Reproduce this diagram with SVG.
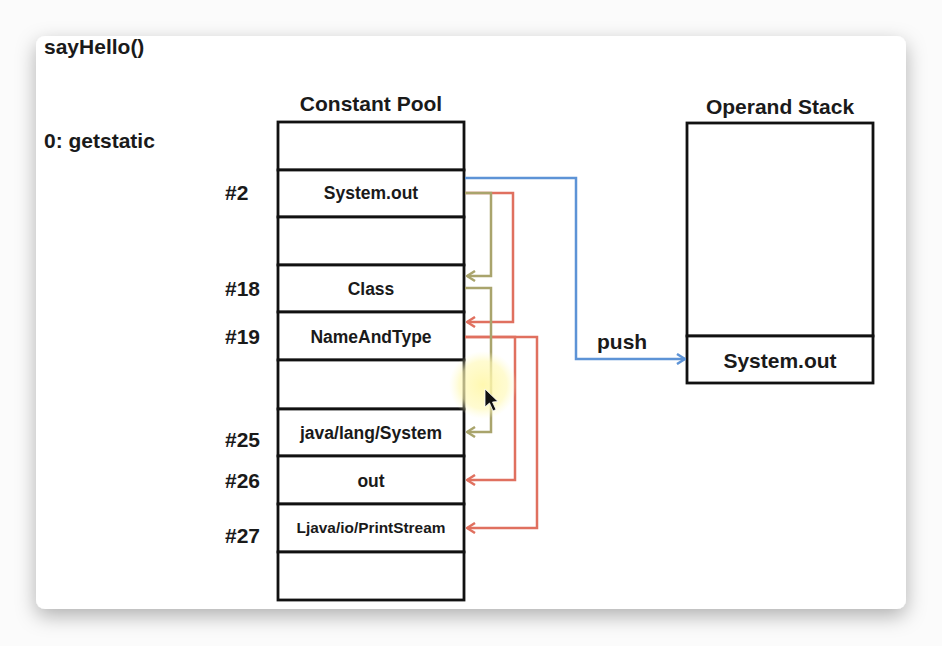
<svg xmlns="http://www.w3.org/2000/svg" width="942" height="646" viewBox="0 0 942 646">
<defs>
<style>
.t{font-family:"Liberation Sans",Arial,Helvetica,sans-serif;font-weight:bold;fill:#1a1a1a}
.big{font-size:21px}
.cell{font-size:17.5px;text-anchor:middle}
.box{fill:#fff;stroke:#111;stroke-width:2.8}
.c{fill:none;stroke-width:2.5;stroke-linejoin:miter}
.blue{stroke:#5d93d6}
.olive{stroke:#a9a46c}
.red{stroke:#e0705f}
</style>
<filter id="sh" x="-10%" y="-10%" width="120%" height="125%">
<feDropShadow dx="0" dy="7" stdDeviation="10" flood-color="#000" flood-opacity="0.3"/>
</filter>
<radialGradient id="glow">
<stop offset="0" stop-color="#fff7a8" stop-opacity="0.9"/>
<stop offset="0.7" stop-color="#fff9b8" stop-opacity="0.65"/>
<stop offset="1" stop-color="#fffcd0" stop-opacity="0"/>
</radialGradient>
<marker id="ab" viewBox="0 0 10 12" refX="9" refY="6" markerWidth="10" markerHeight="12" markerUnits="userSpaceOnUse" orient="auto"><path d="M1,1 L9,6 L1,11" fill="none" stroke="#5d93d6" stroke-width="2.5"/></marker>
<marker id="ao" viewBox="0 0 10 12" refX="9" refY="6" markerWidth="10" markerHeight="12" markerUnits="userSpaceOnUse" orient="auto"><path d="M1,1 L9,6 L1,11" fill="none" stroke="#a9a46c" stroke-width="2.5"/></marker>
<marker id="ar" viewBox="0 0 10 12" refX="9" refY="6" markerWidth="10" markerHeight="12" markerUnits="userSpaceOnUse" orient="auto"><path d="M1,1 L9,6 L1,11" fill="none" stroke="#e0705f" stroke-width="2.5"/></marker>
</defs>
<rect x="0" y="0" width="942" height="646" fill="#fbfbfb"/>
<rect x="36" y="36" width="870" height="573" rx="9" fill="#fff" filter="url(#sh)"/>

<g id="labels">
<text class="t big" x="44" y="54">sayHello()</text>
<text class="t big" x="44" y="148">0: getstatic</text>
<text class="t big" x="371" y="111" text-anchor="middle">Constant Pool</text>
<text class="t big" x="780" y="114" text-anchor="middle">Operand Stack</text>
<text class="t big" x="225" y="200">#2</text>
<text class="t big" x="225" y="296">#18</text>
<text class="t big" x="225" y="344">#19</text>
<text class="t big" x="225" y="447">#25</text>
<text class="t big" x="225" y="488">#26</text>
<text class="t big" x="225" y="543">#27</text>
</g>

<g id="constant-pool">
<g id="cp0"><rect class="box" x="278" y="122" width="186" height="48"/></g>
<g id="cp2"><rect class="box" x="278" y="170" width="186" height="47"/><text class="t cell" x="371" y="199">System.out</text></g>
<g id="cp-empty1"><rect class="box" x="278" y="217" width="186" height="48"/></g>
<g id="cp18"><rect class="box" x="278" y="265" width="186" height="47"/><text class="t cell" x="371" y="295">Class</text></g>
<g id="cp19"><rect class="box" x="278" y="312" width="186" height="48"/><text class="t cell" x="371" y="343">NameAndType</text></g>
<g id="cp-empty2"><rect class="box" x="278" y="360" width="186" height="49"/></g>
<g id="cp25"><rect class="box" x="278" y="409" width="186" height="47"/><text class="t cell" x="371" y="439">java/lang/System</text></g>
<g id="cp26"><rect class="box" x="278" y="456" width="186" height="48"/><text class="t cell" x="371" y="487">out</text></g>
<g id="cp27"><rect class="box" x="278" y="504" width="186" height="48"/><text class="t cell" x="371" y="533" style="font-size:15.4px">Ljava/io/PrintStream</text></g>
<g id="cp-empty3"><rect class="box" x="278" y="552" width="186" height="48"/></g>
</g>

<g id="operand-stack">
<g id="os-empty"><rect class="box" x="687" y="123" width="186" height="213"/></g>
<g id="os-top"><rect class="box" x="687" y="336" width="186" height="47"/><text class="t big" x="780" y="368" text-anchor="middle">System.out</text></g>
</g>

<g id="connectors">
<path class="c red" d="M465,193 H513 V322 H467" marker-end="url(#ar)"/>
<path class="c red" d="M465,337 H515 V480 H467" marker-end="url(#ar)"/>
<path class="c red" d="M465,337 H537 V528 H467" marker-end="url(#ar)"/>
<path class="c olive" d="M465,193 H491 V276 H467" marker-end="url(#ao)"/>
<path class="c olive" d="M465,288 H491 V432 H467" marker-end="url(#ao)"/>
<path class="c blue" d="M465,178 H576 V359 H685" marker-end="url(#ab)"/>
<text class="t big" x="597" y="349">push</text>
</g>

<g id="cursor">
<circle cx="483" cy="385" r="34" fill="url(#glow)"/>
<path d="M485,389 L485,407 L489.5,403 L493,411 L496,409.5 L492.5,402 L498,401.5 Z" fill="#111" stroke="#fff" stroke-width="0.8"/>
</g>
</svg>
